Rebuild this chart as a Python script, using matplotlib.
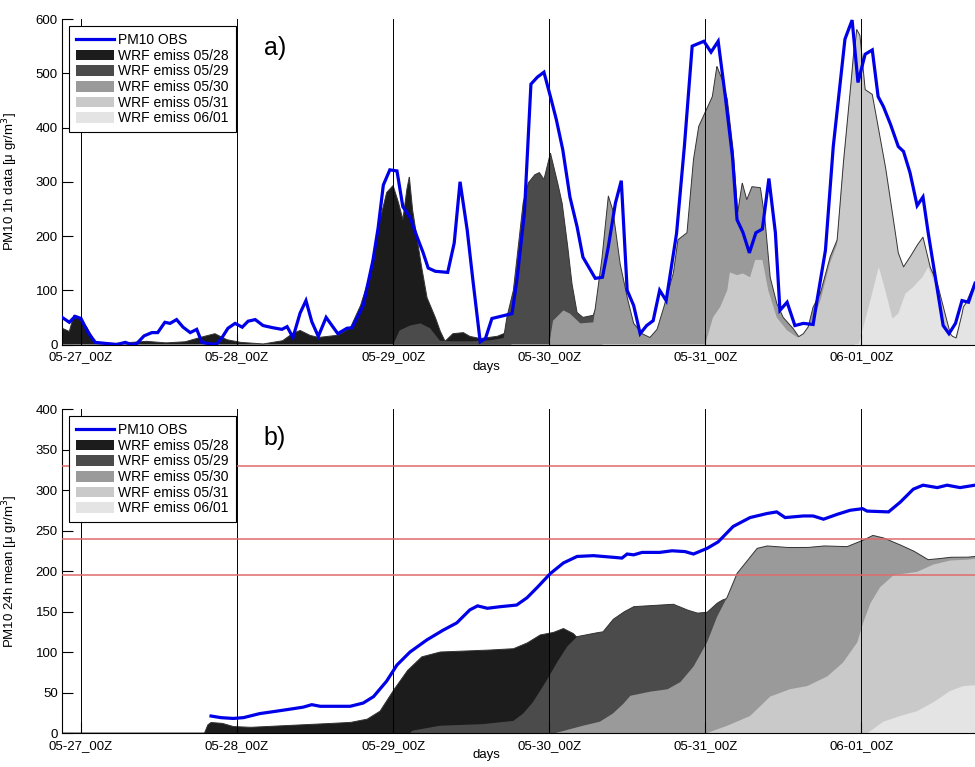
import numpy as np
import matplotlib
matplotlib.use('Agg')
import matplotlib.pyplot as plt
from matplotlib.lines import Line2D
from matplotlib.patches import Patch

plt.rcParams['font.family'] = ['Liberation Sans', 'DejaVu Sans']

# ---------------------------------------------------------------------------
# data: hours from 05-27 00Z, concentrations in ug/m3
# ---------------------------------------------------------------------------

day_ticks = [0, 24, 48, 72, 96, 120]
day_labels = ['05-27_00Z', '05-28_00Z', '05-29_00Z', '05-30_00Z', '05-31_00Z', '06-01_00Z']
run_labels = ['WRF emiss 05/28', 'WRF emiss 05/29', 'WRF emiss 05/30', 'WRF emiss 05/31', 'WRF emiss 06/01']
run_colors = ['#1c1c1c', '#4b4b4b', '#9a9a9a', '#c9c9c9', '#e4e4e4']
limit_values = [330, 240, 195]

# hourly observations
obs_1h_t = [-2.9, -1.8, -0.9, 0, 1.1, 2.2, 5.5, 6.8, 7.8, 8.6, 9.7, 10.9, 11.8, 12.9, 13.7, 14.7,
            15.7, 16.8, 17.8, 18.6, 19.5, 20.8, 21.7, 22.6, 23.7, 24.8, 25.7, 26.8, 28, 29.5, 30.9,
            31.7, 32.6, 33.7, 34.6, 35.5, 36.5, 37.7, 39.5, 40.9, 41.7, 43.4, 44.9, 45.7, 46.5,
            47.5, 48.6, 49.5, 50.6, 51.7, 52.6, 53.4, 54.5, 56.4, 57.4, 58.3, 59.4, 60.3, 61.4,
            62.2, 63.2, 66.3, 67.1, 68.2, 69.2, 70.2, 71.2, 72.2, 73.1, 74.1, 75.2, 76.3, 77.2,
            79.1, 80.2, 81.1, 82.2, 83.1, 84, 85, 86, 87, 88, 89, 90, 91.6, 92.8, 94, 95.8, 96.9,
            98, 99.1, 100.2, 100.9, 101.8, 102.8, 103.8, 104.8, 105.8, 106.8, 107.5, 108.6, 109.8,
            111.1, 112.6, 113.2, 114.5, 115.7, 117.5, 118.6, 119.5, 120.6, 121.7, 122.6, 123.4,
            124.5, 125.7, 126.5, 127.5, 128.6, 129.5, 130.3, 131.4, 132.6, 133.5, 134.5, 135.5,
            136.5, 137.5]
obs_1h = [50, 41, 52, 48, 22, 4, 0, 4, 0, 2, 16, 22, 22, 41, 39, 46,
          32, 22, 28, 4, 2, 0, 13, 30, 39, 32, 43, 46, 35, 31, 28,
          33, 13, 58, 81, 42, 15, 50, 20, 30, 31, 72, 155, 215, 294,
          322, 320, 254, 235, 198, 170, 141, 135, 133, 187, 300, 211, 116, 5,
          11, 48, 57, 124, 243, 480, 493, 502, 457, 415, 359, 272, 217, 161,
          122, 124, 180, 261, 302, 100, 72, 20, 35, 44, 100, 81, 205, 365, 550, 559, 539,
          559, 457, 346, 230, 207, 169, 206, 213, 306, 206, 63, 78, 35,
          39, 37, 81, 174, 365, 563, 598, 483, 535, 543, 457, 439,
          406, 365, 356, 317, 256, 272, 206, 124, 35, 20, 39, 81,
          78, 113]

# hourly model runs
r1h_0528_t = [-2.9, -1.8, -1.1, -0.2, 0.9, 2.2, 5, 8, 10, 13, 16, 18.3, 20.6, 22.4, 24.5, 28, 31,
              32.5, 33.7, 35.2, 36.5, 39.5, 41.4, 43, 44.2, 45, 46, 47, 48, 48.8, 49.5, 50.1, 50.5,
              51, 52.2, 53.2, 54.5, 55.2, 56, 57.2, 58.8, 59.8, 61.4, 64, 65, 66.2]
r1h_0528 = [30, 24, 54, 48, 32, 4, 2, 4, 6, 3, 5, 13, 20, 9, 4, 1, 7,
            20, 26, 17, 13, 17, 30, 72, 118, 168, 230, 280, 293, 263, 230, 285, 309,
            248, 156, 87, 50, 26, 6, 20, 22, 15, 11, 15, 20, 20]
r1h_0529_t = [48, 49, 50.6, 52.2, 53.7, 55.2, 57, 60, 63, 65, 65.5, 66.5, 67.2, 68, 68.8, 69.8,
              70.5, 71.2, 72.2, 73.2, 74, 74.8, 75.5, 76.3, 77.2, 78.8, 79.8, 80.2]
r1h_0529 = [0, 26, 35, 39, 30, 7, 6, 6, 8, 12, 50, 100, 174, 261, 298, 313,
            317, 304, 353, 304, 261, 187, 113, 59, 50, 54, 94, 90]
r1h_0530_t = [72, 72.6, 74.2, 75.2, 76.8, 78.8, 80.1, 81.1, 81.8, 82.9, 84, 85, 86.3, 87.5, 88.6,
              89.5, 91.1, 91.8, 93.2, 94.2, 95, 96, 97.1, 97.8, 98.6, 99.4, 100.3, 101, 101.7,
              102.4, 103.2, 104.5, 105.2, 106, 107, 108, 109.5, 110.6, 111.7, 112.6, 113.7,
              115.2, 116.3, 117.2, 118.3, 119]
r1h_0530 = [0, 44, 63, 57, 39, 41, 156, 274, 248, 150, 87, 39, 20, 13, 28,
            63, 131, 193, 206, 341, 402, 428, 457, 513, 489, 452, 359, 243, 298,
            267, 291, 289, 230, 124, 76, 50, 30, 11, 26, 69, 94,
            161, 193, 328, 465, 560]
r1h_0531_t = [96, 97.2, 98.3, 99.4, 99.8, 100.9, 101.8, 102.9, 103.7, 104.8, 105.7, 107, 108.6,
              110.2, 111.1, 112.6, 113.7, 115.2, 116.3, 117.2, 118.3, 119.3, 119.8, 120.6, 121.7,
              122.6, 123.7, 124.8, 125.7, 126.5, 127.5, 128.6, 129.5, 130.6, 131.7, 132.5,
              133.7, 134.5, 135.7, 137.5]
r1h_0531 = [0, 50, 69, 100, 133, 128, 131, 124, 156, 156, 100, 50, 26,
            13, 20, 45, 80, 150, 185, 320, 460, 581, 570, 470, 461,
            402, 330, 243, 169, 143, 161, 183, 198, 143, 113, 75,
            20, 8, 65, 115]
r1h_0601_t = [119.6, 121.4, 122.7, 123.7, 124.8, 125.7, 126.8, 128, 129.4, 130.3, 131.4, 132.6,
              133.7, 134.8, 135.7, 137.5]
r1h_0601 = [0, 81, 143, 100, 48, 57, 94, 106, 124, 143, 109, 35,
            17, 11, 69, 100]

# 24h running means, observations
obs_24h_t = [20, 21.5, 23.4, 25, 27.5, 30.1, 32.6, 34.2, 35.5, 36.8, 38.8, 41.4, 43.4, 45, 47,
             48.6, 50.6, 53.2, 55.7, 57.8, 59.8, 61, 62.5, 64.5, 67, 68.6, 70.2, 72.2, 74.2, 76.3,
             78.8, 81.8, 83.2, 84, 85, 86.3, 89, 90.9, 92.9, 94.2, 96.3, 98, 100.3, 102.9, 105.5,
             107, 108.3, 111.1, 112.6, 114.2, 116.3, 118.3, 120.2, 120.9, 124.2, 126, 128, 129.5,
             131.7, 133.2, 135.2, 137.5]
obs_24h = [21, 19, 18, 19, 24, 27, 30, 32, 35, 33, 33, 33, 37, 45, 64,
           84, 100, 115, 127, 136, 152, 157, 154, 156, 158, 167, 180, 197, 210, 218,
           219, 217, 216, 221, 220, 223, 223, 225, 224, 221, 228, 236, 255, 266, 271,
           273, 266, 268, 268, 264, 270, 275, 277, 274, 273, 285, 301, 306,
           303, 306, 303, 306]

# 24h running means, model runs
r24_0528_t = [19, 19.5, 20, 21.7, 23.4, 26, 31, 36.3, 41.4, 44, 46, 48, 50.2, 52.4, 55.2, 61.8,
              66.5, 68.6, 70.6, 72.6, 74.2, 75.7, 76.3]
r24_0528 = [0, 10, 13, 12, 8, 7, 9, 11, 13, 17, 27, 52, 77, 94, 100, 102,
            104, 111, 121, 124, 129, 123, 118]
r24_0529_t = [50.6, 51, 55.2, 61.8, 66.5, 68, 69.5, 71.7, 73.2, 74.8, 76.3, 78.8, 80.3, 81.8,
              83.4, 85, 89, 91.1, 93.2, 94.8, 96.3, 97.8, 98.6, 99.3]
r24_0529 = [0, 3, 9, 11, 15, 24, 38, 66, 87, 107, 119, 123, 125, 140,
            149, 156, 158, 159, 152, 148, 149, 160, 164, 166]
r24_0530_t = [73, 77.2, 79.8, 81.8, 83.4, 84.5, 87.5, 90.2, 92.2, 94.2, 96.3, 97.8, 99.4, 100.9,
              102.5, 104, 105.5, 108.6, 111.7, 114.2, 117.8, 120.3, 121.8, 123.4, 125.5, 128,
              130.3, 131.7, 133.7, 136.3, 137.5]
r24_0530 = [0, 9, 14, 24, 36, 46, 51, 54, 63, 82, 112, 143, 168, 197,
            213, 228, 231, 229, 229, 231, 230, 238, 244, 241, 234, 225,
            214, 215, 217, 217, 218]
r24_0531_t = [96.3, 99.4, 102.9, 106, 109, 111.7, 114.8, 117.2, 119.4, 120.3, 121.4, 122.9, 125,
              128.6, 131.1, 133.7, 136.3, 137.5]
r24_0531 = [0, 9, 21, 45, 54, 58, 70, 87, 112, 136, 160, 180, 195,
            199, 208, 213, 214, 215]
r24_0601_t = [121, 123.4, 126, 128.6, 131.1, 133.7, 135.7, 137.5]
r24_0601 = [0, 14, 21, 27, 38, 52, 58, 59]

# ---------------------------------------------------------------------------
# plotting
# ---------------------------------------------------------------------------

xmin, xmax = -2.92, 137.5

def draw_panel(ax, runs, obs_t, obs_v, ymax, ystep, ylabel, tag, limits=()):
    # model runs, each newer run laid over the older ones
    for (t, v), c in zip(runs, run_colors):
        ax.fill_between(t, 0, v, facecolor=c, edgecolor='none', linewidth=0, zorder=1)

    # thin outline along the top of all runs
    tt = np.linspace(xmin, xmax, 4000)
    env = np.zeros_like(tt)
    for t, v in runs:
        env = np.maximum(env, np.interp(tt, t, v, left=0, right=0))
    ax.plot(tt, env, color='#333333', lw=0.7, zorder=2)

    for d in day_ticks:
        ax.axvline(d, color='k', lw=0.7, zorder=3)
    for lv in limits:
        ax.axhline(lv, color='#e06a6a', lw=1.1, zorder=3)

    ax.plot(obs_t, obs_v, color='#0000e8', lw=2.3, zorder=5, solid_joinstyle='miter')

    ax.set_xlim(xmin, xmax)
    ax.set_ylim(0, ymax)
    ax.set_yticks(np.arange(0, ymax + 1, ystep))
    ax.set_xticks(day_ticks)
    ax.set_xticklabels(day_labels)
    ax.tick_params(direction='in', length=8, width=0.8, labelsize=9.5, pad=3)
    ax.tick_params(axis='x', pad=5)
    for s in ['top', 'right']:
        ax.spines[s].set_visible(False)
    ax.spines['left'].set_linewidth(0.8)
    ax.spines['bottom'].set_linewidth(0.8)

    ax.set_xlabel('days', fontsize=9.5)
    ax.xaxis.set_label_coords(0.465, -0.05)
    ax.set_ylabel(ylabel, fontsize=9.5)
    ax.yaxis.set_label_coords(-0.046, 0.5)

    handles = [Line2D([], [], color='#0000e8', lw=2.3)]
    handles += [Patch(facecolor=c, edgecolor='none') for c in run_colors]
    leg = ax.legend(handles, ['PM10 OBS'] + run_labels, loc='upper left',
                    bbox_to_anchor=(0.0077, 0.978), borderaxespad=0, fontsize=10,
                    fancybox=False, framealpha=1, edgecolor='k', handlelength=2.75,
                    handleheight=0.8, labelspacing=0.12, handletextpad=0.3, borderpad=0.5)
    leg.get_frame().set_linewidth(0.8)
    leg.set_zorder(10)

    ax.text(0.233, 0.91, tag, transform=ax.transAxes, fontsize=18, ha='center', va='center')


fig = plt.figure(figsize=(9.75, 7.67), dpi=100)
ax1 = fig.add_axes([0.0636, 0.5508, 0.9364, 0.4244])
ax2 = fig.add_axes([0.0636, 0.0443, 0.9364, 0.4224])

runs_1h = [(r1h_0528_t, r1h_0528), (r1h_0529_t, r1h_0529), (r1h_0530_t, r1h_0530),
           (r1h_0531_t, r1h_0531), (r1h_0601_t, r1h_0601)]
runs_24h = [(r24_0528_t, r24_0528), (r24_0529_t, r24_0529), (r24_0530_t, r24_0530),
            (r24_0531_t, r24_0531), (r24_0601_t, r24_0601)]

draw_panel(ax1, runs_1h, obs_1h_t, obs_1h, 600, 100,
           r'PM10 1h data [$\mathregular{\mu}$ gr/m$^3$]', 'a)')
draw_panel(ax2, runs_24h, obs_24h_t, obs_24h, 400, 50,
           r'PM10 24h mean [$\mathregular{\mu}$ gr/m$^3$]', 'b)', limits=limit_values)

fig.savefig('out.png', dpi=100)
